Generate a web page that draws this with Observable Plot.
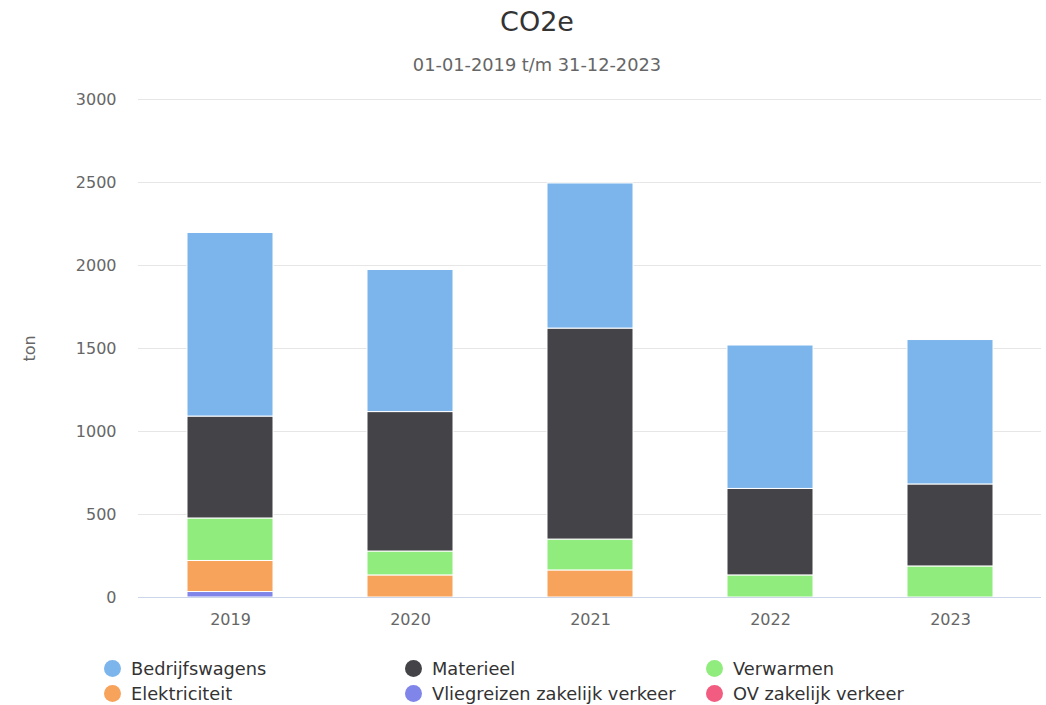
<!DOCTYPE html>
<html>
<head>
<meta charset="utf-8">
<script src="https://cdn.jsdelivr.net/npm/d3@7"></script>
<script src="https://cdn.jsdelivr.net/npm/@observablehq/plot@0.6"></script>
<style>
  html, body { margin: 0; padding: 0; background: #fff; }
  body { width: 1046px; height: 705px; font-family: "DejaVu Sans", sans-serif; position: relative; overflow: hidden; }
  #title { position: absolute; top: 6px; left: 14px; width: 1046px; text-align: center; font-size: 27px; color: #333; }
  #subtitle { position: absolute; top: 54px; left: 14px; width: 1046px; text-align: center; font-size: 17.8px; color: #666; }
  #chart { position: absolute; top: 85px; left: 0; }
  #legend { position: absolute; top: 659px; left: 102px; width: 920px; display: grid; grid-template-columns: 301px 301px 301px; row-gap: 6px; }
  .item { display: flex; align-items: center; font-size: 17.8px; color: #333; height: 19px; }
  .sw { width: 17px; height: 17px; border-radius: 50%; margin-right: 10px; margin-left: 2px; flex: none; }
</style>
</head>
<body>
<div id="title">CO2e</div>
<div id="subtitle">01-01-2019 t/m 31-12-2023</div>
<div id="chart"></div>
<div id="legend"></div>
<script>
const years = ["2019", "2020", "2021", "2022", "2023"];
const seriesNames = ["Bedrijfswagens", "Materieel", "Verwarmen", "Elektriciteit", "Vliegreizen zakelijk verkeer", "OV zakelijk verkeer"];
const seriesColors = ["#7cb5ec", "#434348", "#90ed7d", "#f7a35c", "#8085e9", "#f15c80"];
const bedrijfswagens = [1106, 856, 874, 864, 870];
const materieel = [614, 840, 1271, 521, 494];
const verwarmen = [256, 144, 186, 133, 187];
const elektriciteit = [187, 133, 163, 0, 0];
const vliegreizen = [33, 0, 0, 0, 0];
const ov = [0, 0, 0, 0, 0];
const yTicks = [0, 500, 1000, 1500, 2000, 2500, 3000];

const valuesBySeries = [bedrijfswagens, materieel, verwarmen, elektriciteit, vliegreizen, ov];
const rows = [];
// bottom-most series first (Highcharts stacks first series on top)
for (let s = seriesNames.length - 1; s >= 0; s--) {
  years.forEach((y, i) => rows.push({ year: y, series: seriesNames[s], value: valuesBySeries[s][i] }));
}

const chart = Plot.plot({
  width: 1046,
  height: 560,
  marginTop: 14,
  marginBottom: 48,
  marginLeft: 138,
  marginRight: 5,
  style: { fontFamily: "DejaVu Sans, sans-serif", fontSize: "16px", color: "#666", background: "#fff" },
  x: { domain: years, paddingInner: 0.524, paddingOuter: 0.262, label: null },
  y: { domain: [0, 3000], ticks: yTicks, label: null },
  color: { domain: seriesNames, range: seriesColors },
  marks: [
    Plot.gridY(yTicks, { stroke: "#e6e6e6", strokeOpacity: 1 }),
    Plot.barY(rows, Plot.stackY({ order: seriesNames.slice().reverse() }, {
      x: "year", y: "value", fill: "series", stroke: "#fff", strokeWidth: 1
    })),
    Plot.ruleY([0], { stroke: "#ccd6eb" }),
    Plot.axisY(yTicks, { tickSize: 0, tickPadding: 22, fill: "#666", fontSize: 16, label: null, tickFormat: d => String(d) }),
    Plot.axisX({ tickSize: 0, tickPadding: 16, fill: "#666", fontSize: 16, label: null }),
    Plot.text(["ton"], { frameAnchor: "left", textAnchor: "middle", dx: -109, rotate: -90, fill: "#666", fontSize: 16 })
  ]
});
document.getElementById("chart").appendChild(chart);

const legend = document.getElementById("legend");
seriesNames.forEach((name, i) => {
  const d = document.createElement("div");
  d.className = "item";
  d.innerHTML = `<span class="sw" style="background:${seriesColors[i]}"></span><span>${name}</span>`;
  legend.appendChild(d);
});
</script>
</body>
</html>
